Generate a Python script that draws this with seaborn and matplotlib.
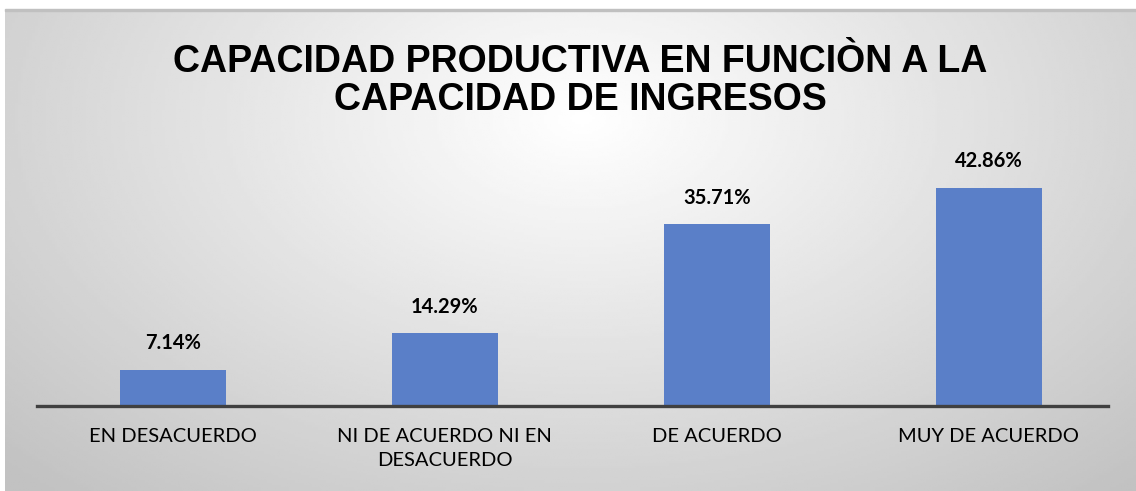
import matplotlib
matplotlib.use('Agg')
import matplotlib.pyplot as plt
import seaborn as sns
import numpy as np
import pandas as pd

categorias = ['EN DESACUERDO', 'NI DE ACUERDO NI EN\nDESACUERDO', 'DE ACUERDO', 'MUY DE ACUERDO']
porcentajes = [7.14, 14.29, 35.71, 42.86]
etiquetas = ['7.14%', '14.29%', '35.71%', '42.86%']

df = pd.DataFrame({'Categoria': categorias, 'Porcentaje': porcentajes})

sns.set_theme(style='white')
plt.rcParams['font.family'] = ['Lato', 'DejaVu Sans']

fig = plt.figure(figsize=(11.36, 4.91), dpi=100)

# fondo gris con degradado radial
bg = fig.add_axes([0.004, 0, 0.996, 0.979], zorder=0)
xx, yy = np.meshgrid(np.linspace(-1, 1, 400), np.linspace(-1, 1, 200))
r = np.sqrt(((xx - 0.02) / 1.1) ** 2 + ((yy - 0.55) / 1.6) ** 2)
grad = 1.0 - 0.24 * np.clip(r, 0, 1.3) / 1.3
bg.imshow(grad, cmap='gray', vmin=0, vmax=1, aspect='auto', origin='lower', extent=[0, 1, 0, 1])
bg.axis('off')
fig.patches.append(plt.Rectangle((0.004, 0.977), 0.996, 0.004, transform=fig.transFigure,
                                 color='#c0c0c0', zorder=1))

ax = fig.add_axes([0.0326, 0.173, 0.943, 0.519], zorder=2)
ax.patch.set_alpha(0)
sns.barplot(data=df, x='Categoria', y='Porcentaje', color='#5a7fc8', width=0.39,
            saturation=1, linewidth=0, ax=ax)

for i, v in enumerate(porcentajes):
    ax.annotate(etiquetas[i], (i, v), xytext=(0, 19), textcoords='offset points',
                ha='center', va='center', fontsize=14.5, fontweight='bold', color='black')

ax.set_xlim(-0.5, 3.44)
ax.set_ylim(0, 50)
ax.set_xlabel('')
ax.set_ylabel('')
ax.set_yticks([])
for s in ['top', 'right', 'left']:
    ax.spines[s].set_visible(False)
ax.spines['bottom'].set_color('#404040')
ax.spines['bottom'].set_linewidth(2.4)
ax.tick_params(axis='x', length=0, pad=16, labelsize=14.5, labelcolor='black')
for lbl in ax.get_xticklabels():
    lbl.set_linespacing(1.45)

fig.text(0.511, 0.835, 'CAPACIDAD PRODUCTIVA EN FUNCIÒN A LA\nCAPACIDAD DE INGRESOS',
         ha='center', va='center', fontsize=27, fontweight='bold', linespacing=1.1,
         family=['Liberation Sans Narrow', 'Liberation Sans', 'DejaVu Sans'], color='black')

plt.savefig('out.png', dpi=100)
plt.close()
